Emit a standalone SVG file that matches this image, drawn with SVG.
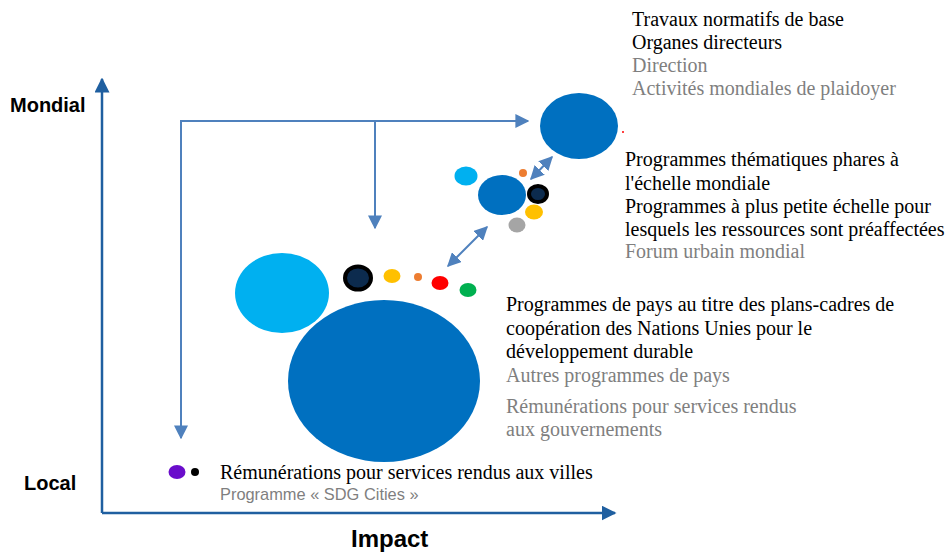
<svg xmlns="http://www.w3.org/2000/svg" width="948" height="557" viewBox="0 0 948 557">
<style>
.ser{font-family:"Liberation Serif","Times New Roman",serif;font-size:20px;fill:#000}
.g{fill:#7F7F7F}
.ax{font-family:"Liberation Sans",Arial,sans-serif;font-weight:bold;fill:#000}
.conn{fill:none;stroke:#4F81BD;stroke-width:2}
.axis{fill:none;stroke:#1F5FA0;stroke-width:2.5}
.blue{fill:#0070C0}
.lblue{fill:#00B0F0}
.orange{fill:#ED7D31}
.yellow{fill:#FFC000}
.red{fill:#FF0000}
.green{fill:#00B050}
.gray{fill:#A5A5A5}
.navy{fill:#0C2B4E;stroke:#000}
</style>
<defs>
<marker id="ah" viewBox="0 0 10 10" refX="9" refY="5" markerUnits="userSpaceOnUse" markerWidth="14" markerHeight="14" orient="auto-start-reverse">
<path d="M0,0 L10,5 L0,10 z" fill="#4F81BD"/>
</marker>
<marker id="axh" viewBox="0 0 10 10" refX="9" refY="5" markerUnits="userSpaceOnUse" markerWidth="15" markerHeight="15" orient="auto">
<path d="M0,0 L10,5 L0,10 z" fill="#1F5FA0"/>
</marker>
</defs>
<rect width="948" height="557" fill="#fff"/>
<g id="axes">
<path class="axis" d="M102,513 V79" marker-end="url(#axh)"/>
<path class="axis" d="M102,513 H615" marker-end="url(#axh)"/>
<text class="ax" x="10" y="112" font-size="20">Mondial</text>
<text class="ax" x="24" y="490" font-size="20">Local</text>
<text class="ax" x="351" y="547" font-size="24">Impact</text>
</g>
<g id="connectors">
<path class="conn" d="M181,438 V121 H528" marker-start="url(#ah)" marker-end="url(#ah)"/>
<path class="conn" d="M375,121 V228" marker-end="url(#ah)"/>
<path class="conn" d="M448,266 L487,227" marker-start="url(#ah)" marker-end="url(#ah)"/>
<path class="conn" d="M531,179 L552,157" marker-start="url(#ah)" marker-end="url(#ah)"/>
</g>
<g id="node-global">
<ellipse class="blue" cx="579" cy="126" rx="39" ry="33"/>
<circle class="red" cx="623" cy="132" r="1"/>
<text class="ser" x="632" y="26">Travaux normatifs de base</text>
<text class="ser" x="632" y="49">Organes directeurs</text>
<text class="ser g" x="632" y="72">Direction</text>
<text class="ser g" x="632" y="95">Activités mondiales de plaidoyer</text>
</g>
<g id="node-thematic">
<ellipse class="lblue" cx="466" cy="176" rx="11.5" ry="9.5"/>
<circle class="orange" cx="523" cy="173" r="4"/>
<ellipse class="blue" cx="502" cy="195" rx="24" ry="20"/>
<ellipse class="navy" cx="538" cy="194" rx="9" ry="8" stroke-width="4"/>
<ellipse class="yellow" cx="534" cy="212" rx="9" ry="7.5"/>
<ellipse class="gray" cx="517" cy="225" rx="8.5" ry="7.5"/>
<text class="ser" x="625" y="166">Programmes thématiques phares à</text>
<text class="ser" x="625" y="190">l'échelle mondiale</text>
<text class="ser" x="625" y="213">Programmes à plus petite échelle pour</text>
<text class="ser" x="625" y="236">lesquels les ressources sont préaffectées</text>
<text class="ser g" x="625" y="258">Forum urbain mondial</text>
</g>
<g id="node-country">
<ellipse class="lblue" cx="282" cy="293" rx="47" ry="40"/>
<ellipse class="blue" cx="384" cy="381" rx="96" ry="81"/>
<ellipse class="navy" cx="358" cy="278" rx="13" ry="11.5" stroke-width="4"/>
<ellipse class="yellow" cx="392" cy="276" rx="8.5" ry="7"/>
<circle class="orange" cx="418" cy="277" r="4"/>
<ellipse class="red" cx="440" cy="283" rx="8.5" ry="7"/>
<ellipse class="green" cx="468" cy="290" rx="8.5" ry="7"/>
<text class="ser" x="506" y="311">Programmes de pays au titre des plans-cadres de</text>
<text class="ser" x="506" y="335">coopération des Nations Unies pour le</text>
<text class="ser" x="506" y="358">développement durable</text>
<text class="ser g" x="506" y="382">Autres programmes de pays</text>
<text class="ser g" x="506" y="413">Rémunérations pour services rendus</text>
<text class="ser g" x="506" y="436">aux gouvernements</text>
</g>
<g id="node-local">
<ellipse fill="#6A0DCB" cx="177" cy="472" rx="8.5" ry="7"/>
<circle fill="#000" cx="195" cy="472" r="4"/>
<text class="ser" x="220" y="479">Rémunérations pour services rendus aux villes</text>
<text x="220" y="500" font-family="Liberation Sans, Arial, sans-serif" font-size="16.4" fill="#7F7F7F">Programme « SDG Cities »</text>
</g>
</svg>
